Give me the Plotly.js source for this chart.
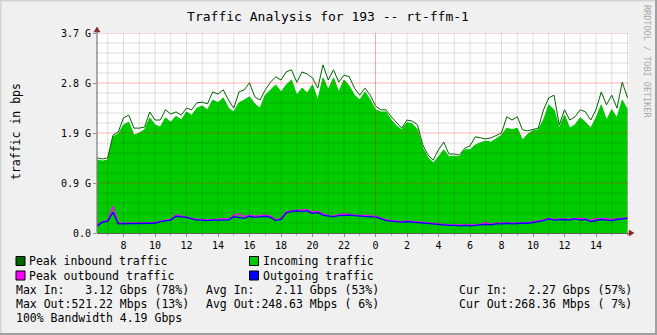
<!DOCTYPE html>
<html><head><meta charset="utf-8">
<script src="https://cdn.plot.ly/plotly-3.0.1.min.js"></script>
<style>html,body{margin:0;padding:0;background:#f0f0f0;overflow:hidden}#chart{width:657px;height:335px}</style>
</head><body><div id="chart"></div>
<script>
// time axis: hours since midnight of day 1, 20-minute samples
const startHour = 6 + 20 / 60;
const stepHours = 20 / 60;
const tickHours = [8, 10, 12, 14, 16, 18, 20, 22, 24, 26, 28, 30, 32, 34, 36, 38];
const tickLabels = ['8', '10', '12', '14', '16', '18', '20', '22', '0', '2', '4', '6', '8', '10', '12', '14'];
const yTickVals = [0, 0.925, 1.85, 2.775, 3.7];
const yTickLabels = ['0.0', '0.9 G', '1.9 G', '2.8 G', '3.7 G'];

// values in Gbps
const inAvg = [
1.35,1.33,1.35,1.78,1.83,2.00,2.05,1.81,1.85,1.91,
2.13,2.00,1.96,2.13,2.05,2.16,2.09,2.24,2.18,2.31,
2.35,2.28,2.46,2.41,2.50,2.31,2.24,2.41,2.46,2.52,
2.39,2.31,2.55,2.65,2.74,2.61,2.74,2.83,2.55,2.68,
2.59,2.74,2.46,2.87,2.65,2.87,2.61,2.83,2.72,2.55,
2.46,2.61,2.46,2.28,2.24,2.24,2.09,1.98,1.91,2.04,
2.02,1.91,1.57,1.39,1.30,1.41,1.54,1.41,1.42,1.41,
1.54,1.54,1.63,1.67,1.70,1.68,1.74,1.81,1.94,1.91,
1.94,1.72,1.83,1.89,1.91,2.09,2.37,2.28,1.94,2.18,
1.94,2.00,2.13,2.05,1.94,2.13,2.37,2.09,2.28,2.13,
2.46,2.28];
const inPeak = [
1.39,1.37,1.39,1.81,1.87,2.13,2.18,1.94,1.94,1.96,
2.24,2.09,2.09,2.28,2.20,2.24,2.18,2.31,2.28,2.41,
2.42,2.39,2.61,2.57,2.65,2.46,2.31,2.61,2.65,2.78,
2.52,2.46,2.65,2.79,2.89,2.83,2.98,3.02,2.79,2.98,
2.94,2.87,2.68,3.11,2.83,3.02,2.79,2.92,2.89,2.68,
2.55,2.68,2.55,2.35,2.28,2.28,2.15,2.04,1.94,2.09,
2.07,2.00,1.63,1.44,1.35,1.54,1.68,1.46,1.46,1.44,
1.57,1.61,1.78,1.76,1.74,1.76,1.81,1.85,2.15,2.09,
2.15,1.91,1.89,1.92,1.94,2.28,2.50,2.55,2.00,2.28,
2.09,2.15,2.28,2.24,2.09,2.28,2.61,2.37,2.55,2.31,
2.79,2.50];
const outAvg = [
0.13,0.20,0.22,0.38,0.17,0.17,0.18,0.17,0.17,0.17,
0.18,0.18,0.21,0.23,0.24,0.31,0.30,0.29,0.26,0.24,
0.24,0.23,0.24,0.24,0.25,0.24,0.30,0.28,0.27,0.31,
0.29,0.30,0.31,0.29,0.23,0.25,0.37,0.40,0.41,0.40,
0.41,0.36,0.38,0.33,0.31,0.30,0.32,0.33,0.33,0.32,
0.31,0.30,0.30,0.30,0.27,0.23,0.22,0.21,0.20,0.21,
0.20,0.19,0.19,0.18,0.17,0.15,0.15,0.14,0.14,0.13,
0.14,0.13,0.14,0.15,0.16,0.15,0.17,0.17,0.18,0.17,
0.18,0.18,0.18,0.19,0.21,0.23,0.26,0.24,0.25,0.25,
0.24,0.26,0.24,0.25,0.21,0.23,0.25,0.24,0.23,0.25,
0.26,0.27];
const outPeak = [
0.14,0.21,0.23,0.49,0.18,0.18,0.19,0.18,0.18,0.18,
0.19,0.19,0.22,0.24,0.25,0.33,0.31,0.30,0.27,0.25,
0.25,0.24,0.25,0.25,0.27,0.25,0.33,0.35,0.30,0.33,
0.31,0.32,0.33,0.31,0.24,0.27,0.39,0.41,0.42,0.42,
0.43,0.38,0.40,0.35,0.32,0.31,0.34,0.35,0.34,0.34,
0.32,0.33,0.31,0.31,0.28,0.24,0.23,0.22,0.21,0.22,
0.21,0.20,0.20,0.19,0.18,0.16,0.16,0.15,0.15,0.15,
0.15,0.14,0.15,0.16,0.20,0.16,0.18,0.18,0.19,0.18,
0.19,0.19,0.19,0.20,0.22,0.24,0.27,0.25,0.26,0.26,
0.25,0.27,0.27,0.26,0.23,0.27,0.26,0.27,0.24,0.27,
0.27,0.28];

const legendNames = ['Peak inbound traffic', 'Incoming traffic', 'Peak outbound traffic', 'Outgoing traffic'];
const legendColors = ['#006600', '#00cc00', '#ff00ff', '#0000ff'];
const statLines = [
  ['Max In:   3.12 Gbps (78%)', 'Avg In:   2.11 Gbps (53%)', 'Cur In:   2.27 Gbps (57%)'],
  ['Max Out:521.22 Mbps (13%)', 'Avg Out:248.63 Mbps ( 6%)', 'Cur Out:268.36 Mbps ( 7%)']
];
const bandwidthLine = '100% Bandwidth 4.19 Gbps';

const hours = inAvg.map((_, i) => startHour + i * stepHours);

const MONO = 'DejaVu Sans Mono, monospace';
const L = 97, R = 629, T = 33, B = 233;
const X = px => (px - L) / (R - L);
const Y = py => (B - py) / (B - T);
const hourOf = px => 8 + (px - 123.5) / 15.75;
const xr0 = hourOf(L), xr1 = hourOf(R);
const nb = s => s.replace(/ /g, '\u00a0');

const traces = [
  {x: hours, y: inAvg, type: 'scatter', mode: 'lines', line: {shape: 'linear', color: '#00cc00', width: 1},
   fill: 'tozeroy', fillcolor: '#00cc00', name: legendNames[1], hoverinfo: 'skip'},
  {x: hours, y: inPeak, type: 'scatter', mode: 'lines', line: {shape: 'linear', color: '#006600', width: 1},
   name: legendNames[0], hoverinfo: 'skip'},
  {x: hours, y: outPeak, type: 'scatter', mode: 'lines', line: {shape: 'linear', color: '#ff00ff', width: 1.5},
   name: legendNames[2], hoverinfo: 'skip'},
  {x: hours, y: outAvg, type: 'scatter', mode: 'lines', line: {shape: 'linear', color: '#0000ff', width: 1.3},
   name: legendNames[3], hoverinfo: 'skip'}
];

const shapes = [];
// grid drawn above the data, like rrdtool
for (let h = Math.ceil(xr0); h <= xr1; h++) {
  shapes.push({type: 'line', xref: 'x', yref: 'paper', x0: h, x1: h, y0: 0, y1: 1, layer: 'above',
    line: {color: h % 24 === 0 ? 'rgba(255,0,0,0.35)' : 'rgba(0,0,0,0.13)', width: 1}});
}
for (let k = 1; k <= 20; k++) {
  const v = 0.185 * k;
  shapes.push({type: 'line', xref: 'paper', yref: 'y', x0: 0, x1: 1, y0: v, y1: v, layer: 'above',
    line: {color: k % 5 === 0 ? 'rgba(255,0,0,0.3)' : 'rgba(0,0,0,0.13)', width: 1}});
}
// axis arrows
shapes.push({type: 'path', xref: 'paper', yref: 'paper', layer: 'above',
  path: `M ${X(629)} ${Y(230)} L ${X(634)} ${Y(233)} L ${X(629)} ${Y(236)} Z`,
  fillcolor: '#882222', line: {color: '#882222', width: 0.5}});
shapes.push({type: 'path', xref: 'paper', yref: 'paper', layer: 'above',
  path: `M ${X(94)} ${Y(32)} L ${X(97)} ${Y(27)} L ${X(100)} ${Y(32)} Z`,
  fillcolor: '#882222', line: {color: '#882222', width: 0.5}});
shapes.push({type: 'line', xref: 'paper', yref: 'paper', x0: X(97), x1: X(97), y0: Y(233), y1: Y(30),
  line: {color: '#606060', width: 1}, layer: 'above'});
// frame
shapes.push({type: 'line', xref: 'paper', yref: 'paper', x0: X(0.5), x1: X(0.5), y0: Y(0), y1: Y(335), line: {color: '#d4d4d4', width: 2}});
shapes.push({type: 'line', xref: 'paper', yref: 'paper', x0: X(0), x1: X(657), y0: Y(0.5), y1: Y(0.5), line: {color: '#d4d4d4', width: 2}});
shapes.push({type: 'line', xref: 'paper', yref: 'paper', x0: X(656), x1: X(656), y0: Y(0), y1: Y(335), line: {color: '#a0a0a0', width: 2}});
shapes.push({type: 'line', xref: 'paper', yref: 'paper', x0: X(0), x1: X(657), y0: Y(334), y1: Y(334), line: {color: '#a0a0a0', width: 2}});

// legend squares
const sqPos = [[16, 256.5], [249.5, 256.5], [16, 271], [249.5, 271]];
sqPos.forEach((p, i) => {
  shapes.push({type: 'rect', xref: 'paper', yref: 'paper', x0: X(p[0]), x1: X(p[0] + 9), y0: Y(p[1]), y1: Y(p[1] + 9),
    fillcolor: legendColors[i], line: {color: '#000000', width: 1}});
});

const annotations = [];
const txt = (px, py, s, extra) => Object.assign({xref: 'paper', yref: 'paper', x: X(px), y: Y(py), text: nb(s),
  showarrow: false, xanchor: 'left', yanchor: 'middle', borderpad: 0, borderwidth: 0,
  font: {family: MONO, size: 11.5, color: '#000000'}}, extra || {});
const legTextPos = [[29.5, 261], [263, 261], [29.5, 275.5], [263, 275.5]];
legTextPos.forEach((p, i) => annotations.push(txt(p[0], p[1], legendNames[i])));
statLines.forEach((row, r) => {
  const py = 289.5 + r * 14;
  [15.5, 205.5, 458.5].forEach((px, c) => annotations.push(txt(px, py, row[c])));
});
annotations.push(txt(15.5, 317.5, bandwidthLine));
annotations.push({xref: 'paper', yref: 'paper', x: X(16), y: Y(132), text: 'traffic in bps', showarrow: false,
  textangle: -90, xanchor: 'center', yanchor: 'middle', font: {family: MONO, size: 11.5, color: '#000000'}});
annotations.push({xref: 'paper', yref: 'paper', x: X(647), y: Y(61), text: 'RRDTOOL / TOBI OETIKER', showarrow: false,
  textangle: 90, xanchor: 'center', yanchor: 'middle', font: {family: MONO, size: 8.5, color: '#a8a8a8'}});

const layout = {
  width: 657, height: 335,
  margin: {l: L, r: 657 - R, t: T, b: 335 - B, pad: 0},
  paper_bgcolor: '#f0f0f0', plot_bgcolor: '#ffffff',
  showlegend: false,
  font: {family: MONO, size: 10, color: '#000000'},
  title: {text: 'Traffic Analysis for 193 -- rt-ffm-1', font: {family: MONO, size: 13, color: '#000000'},
    xref: 'container', x: 328 / 657, xanchor: 'center', yref: 'container', y: 1 - 16.5 / 335, yanchor: 'middle'},
  xaxis: {range: [xr0, xr1], tickmode: 'array', tickvals: tickHours, ticktext: tickLabels,
    showgrid: false, zeroline: false, showline: true, linecolor: '#606060', linewidth: 1,
    ticks: 'outside', ticklen: 3, tickcolor: '#909090',
    minor: {tick0: 0, dtick: 1, ticks: 'outside', ticklen: 2, tickcolor: '#b0b0b0', showgrid: false},
    tickfont: {family: MONO, size: 10, color: '#000000'}, fixedrange: true},
  yaxis: {range: [0, 3.7], tickmode: 'array', tickvals: yTickVals, ticktext: yTickLabels,
    showgrid: false, zeroline: false, showline: false,
    ticks: 'outside', ticklen: 3, tickcolor: '#909090',
    tickfont: {family: MONO, size: 10, color: '#000000'}, fixedrange: true},
  shapes: shapes,
  annotations: annotations
};

Plotly.newPlot('chart', traces, layout, {staticPlot: true, displayModeBar: false});
</script></body></html>
